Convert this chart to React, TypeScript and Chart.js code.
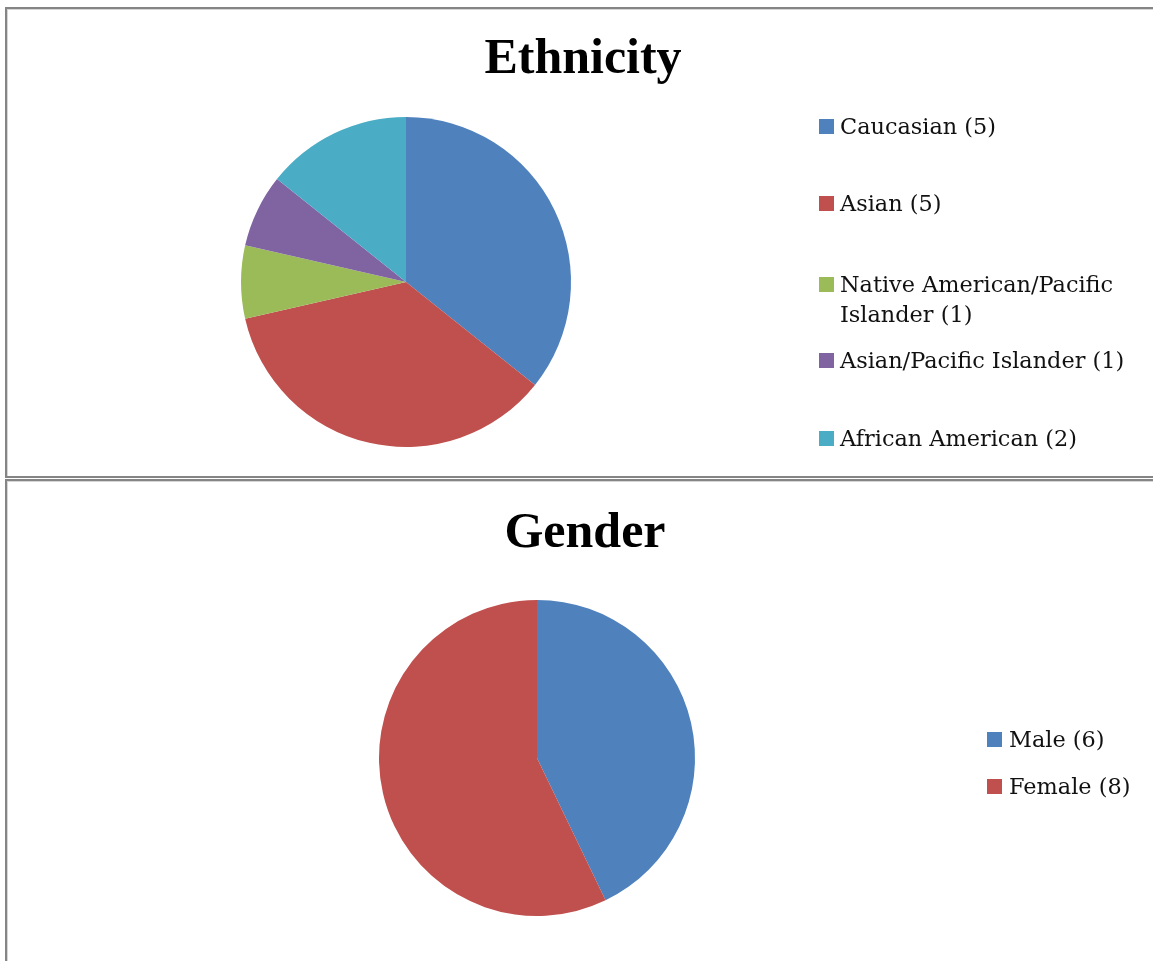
import React, { useEffect, useRef } from "react";
import { Chart, registerables } from "chart.js";

Chart.register(...registerables);

const ethnicityLabels = [
  "Caucasian",
  "Asian",
  "Native American/Pacific Islander",
  "Asian/Pacific Islander",
  "African American",
];
const ethnicityValues = [5, 5, 1, 1, 2];
const ethnicityLegendLines = [
  ["Caucasian (5)"],
  ["Asian (5)"],
  ["Native American/Pacific", "Islander (1)"],
  ["Asian/Pacific Islander (1)"],
  ["African American (2)"],
];
const ethnicityColors = ["#4F81BD", "#C0504D", "#9BBB59", "#8064A2", "#4BACC6"];

const genderLabels = ["Male", "Female"];
const genderValues = [6, 8];
const genderLegendLines = [["Male (6)"], ["Female (8)"]];
const genderColors = ["#4F81BD", "#C0504D"];

const TITLE_FONT = "bold 50px 'Liberation Serif', serif";
const LEGEND_FONT = "22.4px 'DejaVu Serif', serif";

type LegendSpec = {
  title: string;
  titleX: number;
  titleY: number;
  swatchX: number;
  textX: number;
  baselines: number[][];
  lines: string[][];
  colors: string[];
};

function makeOverlay(spec: LegendSpec) {
  return {
    id: "overlay",
    afterDraw(chart: any) {
      const ctx = chart.ctx as CanvasRenderingContext2D;
      ctx.save();
      ctx.fillStyle = "#000";
      ctx.font = TITLE_FONT;
      ctx.textAlign = "center";
      ctx.textBaseline = "alphabetic";
      ctx.fillText(spec.title, spec.titleX, spec.titleY);
      ctx.textAlign = "left";
      ctx.font = LEGEND_FONT;
      spec.lines.forEach((item, i) => {
        const bl = spec.baselines[i];
        ctx.fillStyle = spec.colors[i];
        ctx.fillRect(spec.swatchX, bl[0] - 15, 15, 15);
        ctx.fillStyle = "#111";
        item.forEach((line, j) => {
          ctx.fillText(line, spec.textX, bl[j]);
        });
      });
      ctx.restore();
    },
  };
}

function PieCanvas(props: {
  width: number;
  height: number;
  top: number;
  labels: string[];
  values: number[];
  colors: string[];
  padding: { left: number; right: number; top: number; bottom: number };
  spec: LegendSpec;
}) {
  const ref = useRef<HTMLCanvasElement | null>(null);
  useEffect(() => {
    if (!ref.current) return;
    const chart = new Chart(ref.current, {
      type: "pie",
      data: {
        labels: props.labels,
        datasets: [
          {
            data: props.values,
            backgroundColor: props.colors,
            borderWidth: 0,
          },
        ],
      },
      options: {
        responsive: false,
        animation: false,
        layout: { padding: props.padding },
        plugins: {
          legend: { display: false },
          title: { display: false },
          tooltip: { enabled: false },
        },
      },
      plugins: [makeOverlay(props.spec)],
    });
    return () => chart.destroy();
  }, []);
  return (
    <canvas
      ref={ref}
      width={props.width}
      height={props.height}
      style={{
        position: "absolute",
        left: 0,
        top: props.top,
        width: props.width,
        height: props.height,
        zIndex: 2,
      }}
    />
  );
}

export default function App() {
  const boxBase: React.CSSProperties = {
    position: "absolute",
    left: 5,
    width: 1200,
    boxSizing: "border-box",
    borderLeft: "2px solid #858585",
    borderTop: "2px solid #858585",
    boxShadow: "inset 1px 1px 0 #d6d6d6",
    background: "#fff",
  };
  return (
    <div
      style={{
        position: "absolute",
        left: 0,
        top: 0,
        width: 1153,
        height: 961,
        overflow: "hidden",
        background: "#fff",
      }}
    >
      <div style={{ ...boxBase, top: 7, height: 471, borderBottom: "2px solid #858585" }} />
      <div style={{ ...boxBase, top: 479, height: 600 }} />
      <PieCanvas
        width={1153}
        height={478}
        top={0}
        labels={ethnicityLabels}
        values={ethnicityValues}
        colors={ethnicityColors}
        padding={{ left: 241, right: 582, top: 117, bottom: 31 }}
        spec={{
          title: "Ethnicity",
          titleX: 583,
          titleY: 73,
          swatchX: 819,
          textX: 840,
          baselines: [[134], [211], [292, 322], [368], [446]],
          lines: ethnicityLegendLines,
          colors: ethnicityColors,
        }}
      />
      <PieCanvas
        width={1153}
        height={483}
        top={478}
        labels={genderLabels}
        values={genderValues}
        colors={genderColors}
        padding={{ left: 379, right: 458, top: 122, bottom: 45 }}
        spec={{
          title: "Gender",
          titleX: 585,
          titleY: 69,
          swatchX: 987,
          textX: 1009,
          baselines: [[269], [316]],
          lines: genderLegendLines,
          colors: genderColors,
        }}
      />
    </div>
  );
}
